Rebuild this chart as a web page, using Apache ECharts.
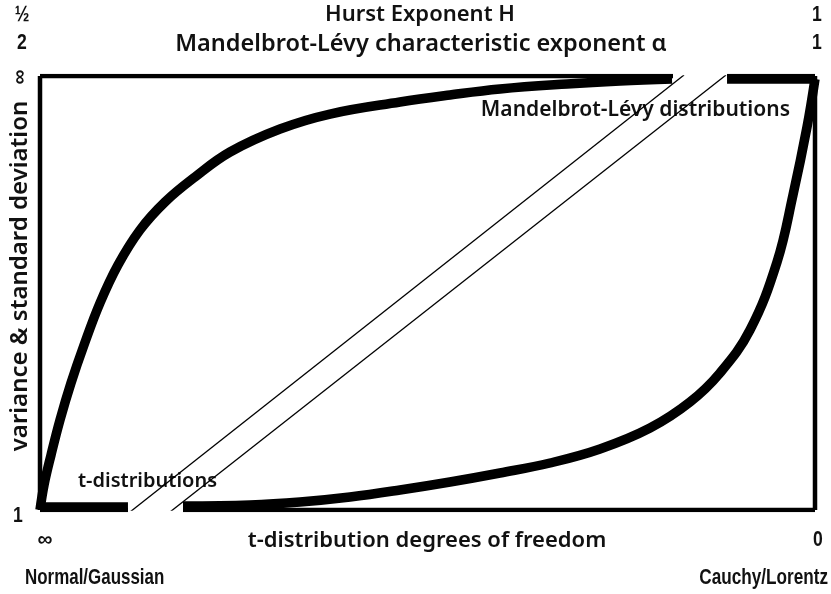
<!DOCTYPE html>
<html>
<head>
<meta charset="utf-8">
<script src="https://cdn.jsdelivr.net/npm/echarts@6/dist/echarts.min.js"></script>
<style>
  html, body { margin: 0; padding: 0; background: #fff; }
  #main { width: 831px; height: 594px; }
</style>
</head>
<body>
<div id="main"></div>
<script>
// x (0..100): normal / alpha 2 / dof inf  ->  cauchy / alpha 1 / dof 0
// y (0..100): finite variance (1)  ->  infinite variance
var levyCurve = [
  [0, 0], [0.52, 5.76], [1.42, 12.67], [2.58, 20.74], [4.00, 29.26],
  [5.68, 38.02], [7.74, 47.70], [10.06, 56.45], [12.90, 64.52],
  [16.13, 70.97], [20.00, 76.73], [24.52, 82.49], [30.97, 87.79],
  [37.42, 91.24], [46.45, 94.01], [52.90, 95.62], [59.35, 97.00],
  [68.00, 98.16], [74.84, 98.85], [81.55, 99.31],
  null,
  [88.65, 99.31], [100, 99.31]
];
var tCurve = [
  [0, 0.69], [11.35, 0.69],
  null,
  [18.45, 0.92], [27.10, 1.15], [33.55, 1.84], [40.00, 3.00],
  [46.45, 4.61], [52.90, 6.45], [59.35, 8.53], [65.81, 10.83],
  [72.26, 14.06], [78.71, 18.89], [83.87, 24.88], [87.74, 31.57],
  [91.61, 41.47], [95.10, 57.14], [97.16, 72.58], [98.97, 88.25],
  [100, 99.31]
];
var breakLine1 = [[11.61, -0.46], [83.10, 100.23]];
var breakLine2 = [[16.77, -0.46], [88.52, 100.23]];
var frameLeft = [[0, 0], [0, 100]];
var frameRight = [[100, 0], [100, 100]];
var frameTop = [[0, 100], [81.68, 100], null, [88.65, 100], [100, 100]];
var frameBottom = [[0, 0], [11.35, 0], null, [18.45, 0], [100, 0]];

var hurstLabels = ['½', '1'];
var alphaLabels = ['2', '1'];
var dofLabels = ['∞', '0'];
var varianceLabels = ['1', '∞'];
var endLabels = ['Normal/Gaussian', 'Cauchy/Lorentz'];

var myChart = echarts.init(document.getElementById('main'));

var mainFont = '"Noto Sans", sans-serif';
var narrowFont = '"Liberation Sans Narrow", "Liberation Sans", sans-serif';

function txt(x, y, s, size, align, opts) {
  opts = opts || {};
  return {
    type: 'text', x: x, y: y,
    rotation: opts.rotation || 0,
    scaleX: opts.scaleX || 1,
    style: {
      text: s,
      fontFamily: opts.family || mainFont,
      fontSize: size,
      fontWeight: opts.weight || 600,
      fill: '#111',
      align: align,
      verticalAlign: 'middle'
    }
  };
}
function narrow(x, y, s, align, sx) {
  return txt(x, y, s, 22, align, { family: narrowFont, weight: 'bold', scaleX: sx || 0.8 });
}

function lineSeries(data, width, smooth) {
  return {
    type: 'line',
    data: data,
    showSymbol: false,
    smooth: smooth || false,
    connectNulls: false,
    silent: true,
    animation: false,
    lineStyle: { color: '#000', width: width, cap: 'butt', join: 'round' }
  };
}

var option = {
  backgroundColor: '#fff',
  animation: false,
  grid: { left: 40, right: 16, top: 76, bottom: 84 },
  xAxis: { type: 'value', min: 0, max: 100, show: false },
  yAxis: { type: 'value', min: 0, max: 100, show: false },
  series: [
    lineSeries(frameLeft, 4.5),
    lineSeries(frameRight, 4.5),
    lineSeries(frameTop, 4.5),
    lineSeries(frameBottom, 4.5),
    lineSeries(levyCurve, 9.5, 0.4),
    lineSeries(tCurve, 9.5, 0.4),
    lineSeries(breakLine1, 1.3),
    lineSeries(breakLine2, 1.3)
  ],
  graphic: [
    narrow(22, 15, hurstLabels[0], 'center'),
    narrow(817, 15, hurstLabels[1], 'center'),
    narrow(22, 43, alphaLabels[0], 'center'),
    narrow(817, 43, alphaLabels[1], 'center'),
    txt(420, 15, 'Hurst Exponent H', 22, 'center'),
    txt(421, 44, 'Mandelbrot-Lévy characteristic exponent α', 23.5, 'center'),
    txt(20, 77, varianceLabels[1], 21, 'center', { rotation: Math.PI / 2, weight: 'bold' }),
    txt(20, 276, 'variance & standard deviation', 24, 'center', { rotation: Math.PI / 2 }),
    narrow(18, 516, varianceLabels[0], 'center'),
    txt(45, 540, dofLabels[0], 21, 'center', { weight: 'bold' }),
    narrow(818, 540, dofLabels[1], 'center'),
    txt(427, 541, 't-distribution degrees of freedom', 22, 'center'),
    narrow(25, 578, endLabels[0], 'left', 0.77),
    narrow(828, 578, endLabels[1], 'right', 0.78),
    txt(78, 481, 't-distributions', 20, 'left'),
    txt(790, 110, 'Mandelbrot-Lévy distributions', 21, 'right')
  ]
};

myChart.setOption(option);
</script>
</body>
</html>
